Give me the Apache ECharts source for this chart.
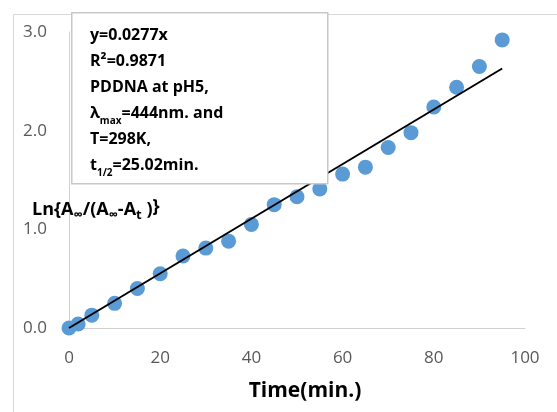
<!DOCTYPE html>
<html>
<head>
<meta charset="utf-8">
<script src="https://cdn.jsdelivr.net/npm/echarts@6/dist/echarts.min.js"></script>
<style>
  html, body { margin: 0; padding: 0; background: #fff; }
  #chart { width: 557px; height: 412px; }
</style>
</head>
<body>
<div id="chart"></div>
<script>
// time (min.) and Ln{A∞/(A∞-At)}
const timeMin = [0, 2, 5, 10, 15, 20, 25, 30, 35, 40, 45, 50, 55, 60, 65, 70, 75, 80, 85, 90, 95];
const lnValues = [0, 0.04, 0.13, 0.25, 0.40, 0.55, 0.73, 0.81, 0.88, 1.05, 1.25, 1.33, 1.41, 1.56, 1.63, 1.83, 1.98, 2.24, 2.44, 2.65, 2.92];
// linear fit y = 0.0277x, end points
const trendX = [0, 95];
const trendY = [0, 2.63];

const font = "'Open Sans', sans-serif";

const chart = echarts.init(document.getElementById("chart"));

chart.setOption({
  animation: false,
  backgroundColor: "#fff",
  grid: { left: 69, right: 32, top: 32, bottom: 84 },
  xAxis: {
    type: "value",
    min: 0,
    max: 100,
    interval: 20,
    axisLine: { show: true, lineStyle: { color: "#d0d0d0", width: 1 } },
    axisTick: { show: false },
    splitLine: { show: false },
    axisLabel: { color: "#595959", fontSize: 17, fontFamily: font, margin: 22 },
    name: "Time(min.)",
    nameLocation: "middle",
    nameGap: 53,
    nameTextStyle: { color: "#000", fontSize: 21, fontWeight: "bold", fontFamily: font, padding: [0, 0, 0, 16] },
  },
  yAxis: {
    type: "value",
    min: 0,
    max: 3,
    interval: 1,
    axisLine: { show: true, lineStyle: { color: "#d0d0d0", width: 1 } },
    axisTick: { show: false },
    splitLine: { show: false },
    axisLabel: {
      color: "#595959",
      fontSize: 17,
      fontFamily: font,
      margin: 22,
      formatter: (v) => v.toFixed(1),
    },
  },
  graphic: [
    {
      type: "rect",
      left: 11,
      top: 12,
      shape: { width: 600, height: 500 },
      style: { fill: "none", stroke: "#d9d9d9", lineWidth: 1 },
      z: 1,
    },
    {
      type: "rect",
      left: 71,
      top: 12,
      shape: { width: 256, height: 171 },
      style: { fill: "#fff", stroke: "#c8c8c8", lineWidth: 1.5 },
      z: 100,
    },
    {
      type: "text",
      left: 90,
      top: 27,
      z: 101,
      style: {
        text: [
          "{b|y=0.0277x}",
          "{b|R²=0.9871}",
          "{b|PDDNA at pH5,}",
          "{b|λ}{s|max}{b|=444nm. and}",
          "{b|T=298K,}",
          "{b|t}{s|1/2}{b|=25.02min.}",
        ].join("\n"),
        rich: {
          b: { fontSize: 16, fontWeight: "bold", fontFamily: font, fill: "#000", lineHeight: 26, verticalAlign: "bottom" },
          s: { fontSize: 10, fontWeight: "bold", fontFamily: font, fill: "#000", lineHeight: 26, verticalAlign: "bottom", padding: [0, 0, -5, 0] },
        },
      },
    },
    {
      type: "text",
      left: 32,
      top: 198,
      z: 101,
      style: {
        text: "{b|Ln{A}{s|∞}{b|/(A}{s|∞}{b|-A}{s|t}{b| )}}",
        fontSize: 18,
        fontWeight: "bold",
        fontFamily: font,
        fill: "#000",
        rich: {
          b: { fontSize: 18, fontWeight: "bold", fontFamily: font, fill: "#000", lineHeight: 24, verticalAlign: "bottom" },
          s: { fontSize: 13, fontWeight: "bold", fontFamily: font, fill: "#000", lineHeight: 24, verticalAlign: "bottom", padding: [0, 0, -3, 0] },
        },
      },
    },
  ],
  series: [
    {
      type: "scatter",
      data: timeMin.map((t, i) => [t, lnValues[i]]),
      symbol: "circle",
      symbolSize: 15,
      itemStyle: { color: "#5b9bd5", opacity: 1 },
      z: 3,
    },
    {
      type: "line",
      data: trendX.map((t, i) => [t, trendY[i]]),
      symbol: "none",
      lineStyle: { color: "#000", width: 2 },
      z: 4,
    },
  ],
});
</script>
</body>
</html>
